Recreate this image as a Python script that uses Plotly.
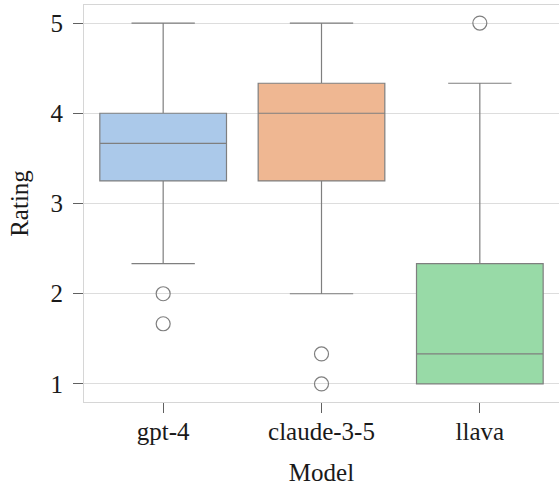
import plotly.graph_objects as go

models = ["gpt-4", "claude-3-5", "llava"]
q1 = [3.25, 3.25, 1.0]
median = [3.667, 4.0, 1.333]
q3 = [4.0, 4.333, 2.333]
lower_whisker = [2.333, 2.0, 1.0]
upper_whisker = [5.0, 5.0, 4.333]
outlier_model = ["gpt-4", "gpt-4", "claude-3-5", "claude-3-5", "llava"]
outlier_rating = [2.0, 1.667, 1.333, 1.0, 5.0]

fills = ["#abc9ea", "#efb792", "#98daa7"]
line_gray = "#7f7f7f"
FAM = "Liberation Serif, serif"


def tf():
    return dict(family=FAM, size=25, color="#1a1a1a")


fig = go.Figure()
for i, m in enumerate(models):
    fig.add_trace(go.Box(
        x=[m], q1=[q1[i]], median=[median[i]], q3=[q3[i]],
        lowerfence=[lower_whisker[i]], upperfence=[upper_whisker[i]],
        width=0.8, whiskerwidth=0.5,
        fillcolor=fills[i], line=dict(color=line_gray, width=1.2),
        boxpoints=False, showlegend=False, hoverinfo="skip",
    ))

fig.add_trace(go.Scatter(
    x=outlier_model, y=outlier_rating, mode="markers",
    marker=dict(symbol="circle-open", size=14, color=line_gray,
                line=dict(width=1.2, color=line_gray)),
    showlegend=False, hoverinfo="skip",
))

fig.update_layout(
    width=559, height=488,
    margin=dict(l=84, r=0, t=5, b=86),
    plot_bgcolor="white", paper_bgcolor="white",
    boxmode="overlay",
    font=tf(),
    xaxis=dict(
        type="category", categoryorder="array", categoryarray=models,
        range=[-0.5, 2.5], showgrid=False,
        showline=True, linecolor="#d6d6d6", linewidth=1.2, mirror=True,
        ticks="outside", ticklen=10, tickcolor="#606060", tickwidth=1,
        ticklabelstandoff=-3, tickfont=tf(),
        title=dict(text="Model", standoff=19, font=tf()),
        zeroline=False,
    ),
    yaxis=dict(
        range=[0.8, 5.2], tickvals=[1, 2, 3, 4, 5],
        showgrid=True, gridcolor="#dddddd", gridwidth=1,
        showline=True, linecolor="#d6d6d6", linewidth=1.2, mirror=True,
        ticks="outside", ticklen=10, tickcolor="#606060", tickwidth=1,
        ticklabelstandoff=5, tickfont=tf(),
        title=dict(text="Rating", standoff=14, font=tf()),
        zeroline=False,
    ),
)

fig.write_html("out.html")
